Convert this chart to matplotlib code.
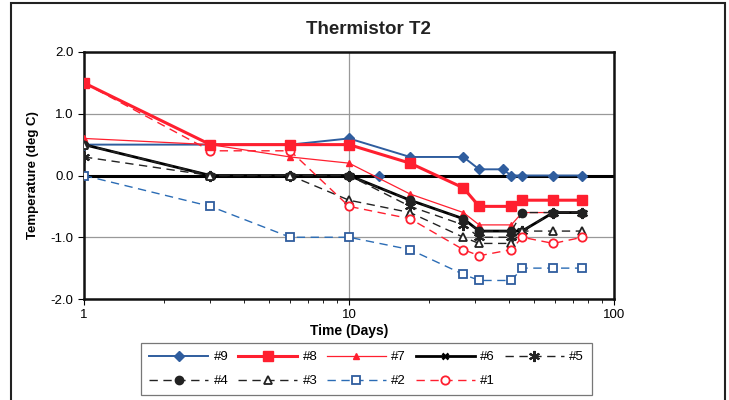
import matplotlib
matplotlib.use("Agg")
import matplotlib.pyplot as plt
from matplotlib.patches import Rectangle
from matplotlib.ticker import FixedLocator, LogLocator, NullFormatter

plt.rcParams['font.family'] = ['Liberation Sans', 'DejaVu Sans']

########## Data
days = [1, 3, 6, 10, 17, 27, 31, 41, 45, 59, 76]
days9 = [1, 3, 6, 10, 17, 27, 31, 38, 41, 45, 59, 76]
t9 = [0.5, 0.5, 0.5, 0.6, 0.3, 0.3, 0.1, 0.1, 0.0, 0.0, 0.0, 0.0]
extra9_x = [13]
extra9_y = [0.0]
t8 = [1.5, 0.5, 0.5, 0.5, 0.2, -0.2, -0.5, -0.5, -0.4, -0.4, -0.4]
t7 = [0.6, 0.5, 0.3, 0.2, -0.3, -0.6, -0.8, -0.8, -0.6, -0.6, -0.6]
t6 = [0.5, 0.0, 0.0, 0.0, -0.4, -0.7, -0.9, -0.9, -0.9, -0.6, -0.6]
t5 = [0.3, 0.0, 0.0, 0.0, -0.5, -0.8, -1.0, -1.0, -0.9, -0.6, -0.6]
t4 = [0.5, 0.0, 0.0, 0.0, -0.4, -0.7, -0.9, -0.9, -0.6, -0.6, -0.6]
t3 = [0.5, 0.0, 0.0, -0.4, -0.6, -1.0, -1.1, -1.1, -0.9, -0.9, -0.9]
t2 = [0.0, -0.5, -1.0, -1.0, -1.2, -1.6, -1.7, -1.7, -1.5, -1.5, -1.5]
t1 = [1.5, 0.4, 0.4, -0.5, -0.7, -1.2, -1.3, -1.2, -1.0, -1.1, -1.0]
yticks = [-2.0, -1.0, 0.0, 1.0, 2.0]
##############################################

blue = '#2f5d9e'
blue2 = '#2b6cb5'
red = '#ff1f2f'
dash = (0, (6, 4))

fig = plt.figure(figsize=(7.29, 4.0), dpi=100)
fig.patches.append(Rectangle((11/729, -0.01), 714/729, 1 - 3/400 + 0.01, transform=fig.transFigure,
                             fill=False, edgecolor='#222222', linewidth=1.5))

ax = fig.add_axes([84/729, 1 - 299/400, 530/729, 247/400])
ax.set_xscale('log')
ax.set_xlim(1, 100)
ax.set_ylim(-2, 2)

ax.grid(axis='y', color='#999999', linewidth=0.9)
ax.xaxis.set_major_locator(FixedLocator([1, 10, 100]))
ax.xaxis.set_minor_locator(LogLocator(base=10, subs=range(2, 10)))
ax.xaxis.set_minor_formatter(NullFormatter())
ax.grid(axis='x', which='major', color='#999999', linewidth=0.9)
ax.axhline(0, color='black', linewidth=2.2, zorder=2)

lines = {}
lines['#9'], = ax.plot(days9, t9, color=blue, marker='D', markersize=5, linewidth=1.4, label='#9', zorder=5)
ax.plot(extra9_x, extra9_y, color=blue, marker='D', markersize=5, linestyle='none', zorder=5)
lines['#8'], = ax.plot(days, t8, color=red, marker='s', markersize=7, linewidth=2.2, label='#8', zorder=6)
lines['#7'], = ax.plot(days, t7, color=red, marker='^', markersize=5, linewidth=0.9, label='#7', zorder=5)
lines['#6'], = ax.plot(days, t6, color='black', marker='x', markersize=5, mew=1.8, linewidth=2.0,
                       label='#6', zorder=5)
lines['#5'], = ax.plot(days, t5, color='#222222', marker=(6, 2, 0), markersize=8, mew=1.5, linewidth=1.0,
                       linestyle=dash, label='#5', zorder=5)
lines['#4'], = ax.plot(days, t4, color='#222222', marker='o', markersize=6, linewidth=1.0, linestyle=dash,
                       label='#4', zorder=5)
lines['#3'], = ax.plot(days, t3, color='#222222', marker='^', markersize=6, mfc='white', mew=1.3,
                       linewidth=1.0, linestyle=dash, label='#3', zorder=5)
lines['#2'], = ax.plot(days, t2, color=blue2, marker='s', markersize=6, mfc='white', mec=blue, mew=1.3,
                       linewidth=1.0, linestyle=dash, label='#2', zorder=5)
lines['#1'], = ax.plot(days, t1, color=red, marker='o', markersize=6, mfc='white', mew=1.3, linewidth=1.0,
                       linestyle=dash, label='#1', zorder=5)

ax.set_yticks(yticks)
ax.set_yticklabels(['%.1f' % v for v in yticks], fontsize=9.5)
ax.set_xticklabels(['1', '10', '100'], fontsize=9.5)
ax.tick_params(axis='both', which='major', length=4, color='black')
ax.tick_params(axis='x', which='minor', length=3)
for s in ax.spines.values():
    s.set_linewidth(1.8)
    s.set_color('#111111')

ax.set_ylabel('Temperature (deg C)', fontsize=9.5, fontweight='bold', labelpad=8)
ax.set_xlabel('Time (Days)', fontsize=10, fontweight='bold', labelpad=2)
fig.text(368/729, 1 - 29/400, 'Thermistor T2', ha='center', va='center', fontsize=13.5, fontweight='bold',
         color='#222222')

# legend fills column-wise, so interleave to get rows #9..#5 / #4..#1
order = ['#9', '#4', '#8', '#3', '#7', '#2', '#6', '#1', '#5']
leg = ax.legend([lines[k] for k in order], order, loc='upper left',
                bbox_to_anchor=(141/729, 1 - 343/400, 451/729, 0.0),
                bbox_transform=fig.transFigure, mode='expand', ncol=5, fontsize=9.5,
                handlelength=4.5, frameon=True, fancybox=False, borderaxespad=0,
                columnspacing=1.2, handletextpad=0.4, labelspacing=0.9, borderpad=0.6)
leg.get_frame().set_edgecolor('#555555')
leg.get_frame().set_linewidth(0.9)

fig.savefig('out.png', dpi=100)
